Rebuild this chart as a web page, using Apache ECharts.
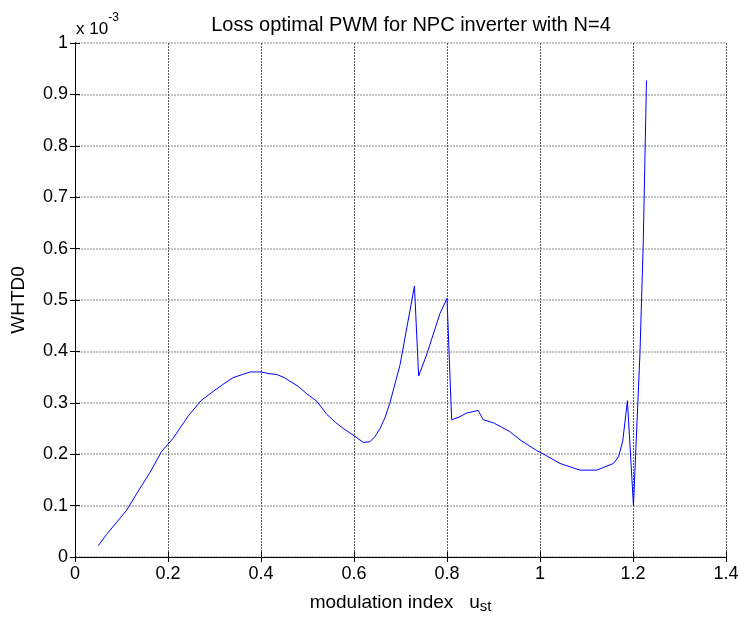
<!DOCTYPE html>
<html>
<head>
<meta charset="utf-8">
<script src="https://cdn.jsdelivr.net/npm/echarts@6/dist/echarts.min.js"></script>
<style>html,body{margin:0;padding:0;background:#fff}#c{width:741px;height:619px}</style>
</head>
<body>
<div id="c"></div>
<script>
// modulation index u_st
const modIndex = [0.05,0.068,0.09,0.111,0.14,0.161,0.186,0.211,0.244,0.272,0.297,0.32,0.34,0.36,0.376,0.39,0.401,0.415,0.434,0.45,0.462,0.48,0.498,0.52,0.541,0.56,0.577,0.6,0.62,0.634,0.645,0.656,0.667,0.677,0.699,0.73,0.739,0.756,0.785,0.8,0.81,0.828,0.842,0.867,0.878,0.9,0.935,0.957,0.993,1.014,1.043,1.086,1.122,1.158,1.169,1.178,1.188,1.201,1.215,1.222,1.229];
// WHTD0 in units of 1e-3
const whtd0 = [0.022,0.044,0.068,0.091,0.134,0.164,0.205,0.231,0.275,0.305,0.322,0.337,0.349,0.355,0.360,0.360,0.360,0.357,0.355,0.349,0.342,0.332,0.318,0.303,0.278,0.262,0.250,0.236,0.223,0.224,0.234,0.250,0.272,0.299,0.374,0.527,0.352,0.393,0.474,0.503,0.267,0.273,0.280,0.285,0.267,0.261,0.244,0.228,0.207,0.197,0.182,0.169,0.169,0.182,0.195,0.226,0.304,0.100,0.397,0.609,0.927];
const xTicks = [0,0.2,0.4,0.6,0.8,1,1.2,1.4];
const yTicks = [0,0.1,0.2,0.3,0.4,0.5,0.6,0.7,0.8,0.9,1];

const FONT = 'Liberation Sans';
const chart = echarts.init(document.getElementById('c'));
const axLine = {show:true, lineStyle:{color:'#000', width:1}};
const tick = {show:true, inside:true, length:5, lineStyle:{color:'#000'}};
const fmt = v => String(+v.toFixed(1));
chart.setOption({
  animation:false,
  backgroundColor:'#fff',
  title:{text:'Loss optimal PWM for NPC inverter with N=4', left:406, textAlign:'center', top:10,
    textStyle:{fontFamily:FONT, fontSize:20, fontWeight:'normal', color:'#000'}},
  grid:{left:75, right:15, top:43, bottom:62, containLabel:false, outerBoundsMode:'none'},
  xAxis:[{type:'value', min:xTicks[0], max:xTicks[xTicks.length-1], interval:0.2,
      axisLine:axLine, axisTick:tick, splitLine:{show:true, lineStyle:{color:'#5a5a5a', width:1, type:[2,1]}},
      axisLabel:{fontFamily:FONT, fontSize:18, color:'#000', margin:8, formatter:fmt},
      name:'{n|modulation index   u}{s|st}', nameLocation:'middle', nameGap:35,
      nameTextStyle:{rich:{n:{fontFamily:FONT, fontSize:19, color:'#000', lineHeight:22}, s:{fontFamily:FONT, fontSize:15, color:'#000', verticalAlign:'bottom', lineHeight:14, padding:[6,0,0,0]}}}},
    {type:'value', position:'top', min:0, max:1.4, interval:0.2, axisLine:axLine, axisTick:tick, axisLabel:{show:false}, splitLine:{show:false}}],
  yAxis:[{type:'value', min:yTicks[0], max:yTicks[yTicks.length-1], interval:0.1,
      axisLine:axLine, axisTick:tick, splitLine:{show:true, lineStyle:{color:'#b0b0b0', width:1.5, type:[2,1]}},
      axisLabel:{fontFamily:FONT, fontSize:18, color:'#000', margin:7, formatter:fmt},
      name:'WHTD0', nameLocation:'middle', nameGap:47, nameRotate:90,
      nameTextStyle:{fontFamily:FONT, fontSize:19, color:'#000'}},
    {type:'value', position:'right', min:0, max:1, interval:0.1, axisLine:axLine, axisTick:tick, axisLabel:{show:false}, splitLine:{show:false}}],
  graphic:[{type:'text', left:76, top:12, style:{text:'{a|x 10}{b|-3}', rich:{a:{fontFamily:FONT, fontSize:17, fill:'#000', padding:[9,0,0,0]}, b:{fontFamily:FONT, fontSize:12, fill:'#000', verticalAlign:'top'}}}}],
  series:[{type:'line', xAxisIndex:0, yAxisIndex:0, showSymbol:false, symbol:'none',
    lineStyle:{color:'#0000ff', width:1}, data:modIndex.map((u,i)=>[u, whtd0[i]])}]
});
</script>
</body>
</html>
